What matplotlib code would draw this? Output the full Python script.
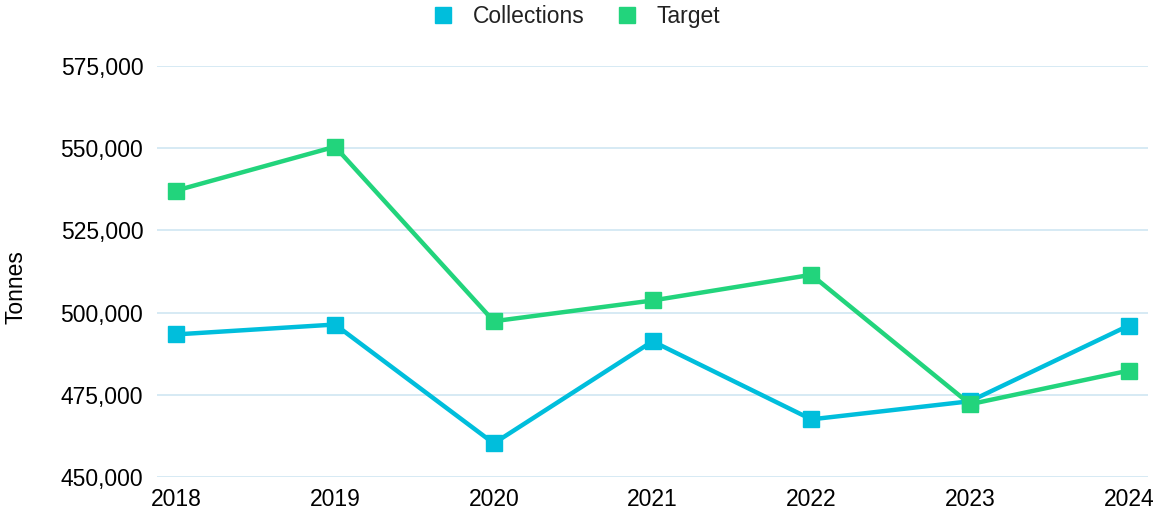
import matplotlib
matplotlib.use("Agg")
import matplotlib.pyplot as plt
from matplotlib.ticker import FuncFormatter

years = ["2018", "2019", "2020", "2021", "2022", "2023", "2024"]
collections = [493400, 496400, 460300, 491300, 467600, 473100, 496100]
target = [537100, 550400, 497400, 503700, 511500, 472200, 482400]

COLORS = {"Collections": "#00BEDC", "Target": "#22D47C"}

plt.rcParams["font.family"] = ["Liberation Sans", "DejaVu Sans"]

fig = plt.figure(figsize=(11.56, 5.15), dpi=100)
ax = fig.add_axes([0.136, 0.0732, 0.857, 0.7992])

x = list(range(len(years)))
for name, vals in [("Collections", collections), ("Target", target)]:
    ax.plot(x, vals, color=COLORS[name], lw=3.2, marker="s", ms=12,
            label=name, clip_on=False, zorder=3)

ax.set_xlim(-0.12, len(years) - 1 + 0.12)
ax.set_ylim(450000, 575000)
ax.set_yticks(range(450000, 575001, 25000))
ax.yaxis.set_major_formatter(FuncFormatter(lambda v, p: f"{int(v):,}"))
ax.set_xticks(x)
ax.set_xticklabels(years)
ax.grid(axis="y", color="#D3E8F3", lw=1.3, zorder=0)
ax.set_axisbelow(True)
for s in ax.spines.values():
    s.set_visible(False)
ax.tick_params(axis="both", length=0, labelsize=16.5, colors="#000000")
ax.tick_params(axis="x", pad=8)
ax.tick_params(axis="y", pad=10)

fig.text(16 / 1156, 1 - 287 / 515, "Tonnes", rotation=90, fontsize=16.5,
         ha="center", va="center")

handles, labels = ax.get_legend_handles_labels()
leg = fig.legend(handles, labels, loc="center", bbox_to_anchor=(0.498, 0.967),
                 ncol=2, frameon=False, fontsize=16.5, handlelength=1.0,
                 handletextpad=0.8, columnspacing=1.35)
for h in leg.legend_handles:
    h.set_linestyle("none")
    h.set_markersize(12)
for t in leg.get_texts():
    t.set_color("#222222")

fig.savefig("out.png", dpi=100)
